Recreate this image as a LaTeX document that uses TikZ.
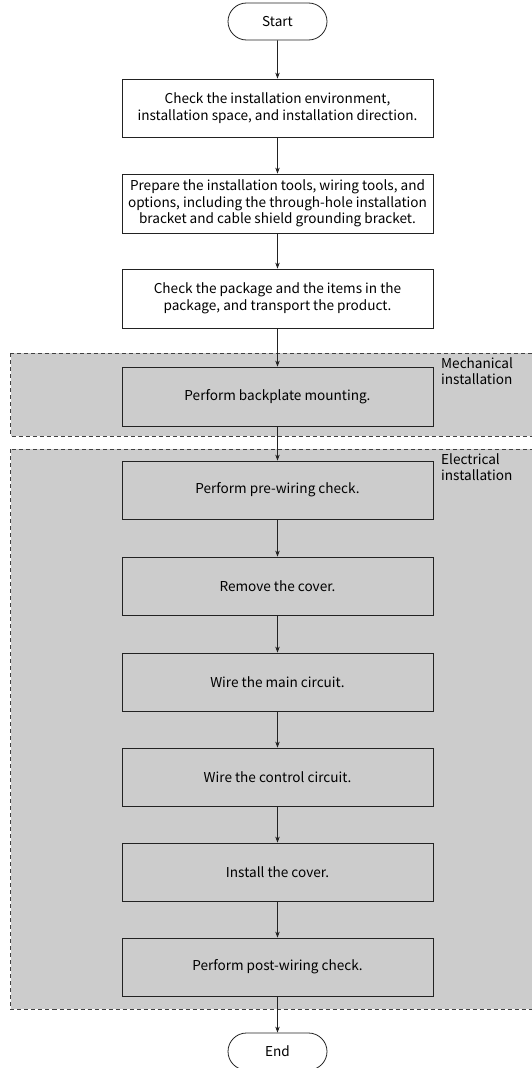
\documentclass[tikz,border=0pt]{standalone}
\usepackage{fontspec}
\setmainfont{Noto Sans CJK SC}
\usetikzlibrary{shapes.misc,arrows.meta}
\definecolor{regiongray}{HTML}{CCCCCC}
\definecolor{linecol}{HTML}{222222}
\begin{document}
\begin{tikzpicture}[x=1pt,y=-1pt,
  stepbox/.style={draw=linecol,line width=0.8pt,minimum width=311pt,inner sep=0pt,align=center,font=\fontsize{13.6}{16.6}\selectfont},
  whitebox/.style={stepbox,fill=white},
  graybox/.style={stepbox,fill=regiongray},
  term/.style={draw=linecol,line width=0.8pt,rounded rectangle,minimum width=99pt,minimum height=37pt,inner sep=0pt,fill=white,font=\fontsize{13.6}{16}\selectfont},
  region/.style={draw=black!75,dashed,dash pattern=on 4pt off 3pt,line width=0.8pt,fill=regiongray},
  regionlabel/.style={anchor=north west,align=left,inner sep=0pt,font=\fontsize{13.6}{16.5}\selectfont},
  flow/.style={draw=linecol,line width=0.8pt,-{Stealth[length=6pt,width=4.5pt]}}]
\useasboundingbox (0,0) rectangle (531,1068);
% regions
\path[region] (10.5,353) rectangle (545,436);
\path[region] (10.5,449) rectangle (545,1009);
\node[regionlabel] (mlab) at (441,357) {Mechanical\\installation};
\node[regionlabel] (elab) at (441,453) {Electrical\\installation};
% nodes
\node[term] (start) at (277.5,21.5) {Start};
\node[whitebox,minimum height=58pt] (b1) at (277.5,108) {Check the installation environment,\\installation space, and installation direction.};
\node[whitebox,minimum height=59pt] (b2) at (277.5,203.5) {Prepare the installation tools, wiring tools, and\\options, including the through-hole installation\\bracket and cable shield grounding bracket.};
\node[whitebox,minimum height=59pt] (b3) at (277.5,298.5) {Check the package and the items in the\\package, and transport the product.};
\node[graybox,minimum height=59pt] (b4) at (277.5,396.5) {Perform backplate mounting.};
\node[graybox,minimum height=58pt] (b5) at (277.5,490) {Perform pre-wiring check.};
\node[graybox,minimum height=58pt] (b6) at (277.5,586) {Remove the cover.};
\node[graybox,minimum height=58pt] (b7) at (277.5,682) {Wire the main circuit.};
\node[graybox,minimum height=58pt] (b8) at (277.5,777) {Wire the control circuit.};
\node[graybox,minimum height=58pt] (b9) at (277.5,872) {Install the cover.};
\node[graybox,minimum height=58pt] (b10) at (277.5,967) {Perform post-wiring check.};
\node[term] (end) at (277.5,1051.5) {End};
% connectors
\draw[flow] (start) -- (b1);
\draw[flow] (b1) -- (b2);
\draw[flow] (b2) -- (b3);
\draw[flow] (b3) -- (b4);
\draw[flow] (b4) -- (b5);
\draw[flow] (b5) -- (b6);
\draw[flow] (b6) -- (b7);
\draw[flow] (b7) -- (b8);
\draw[flow] (b8) -- (b9);
\draw[flow] (b9) -- (b10);
\draw[flow] (b10) -- (end);
\end{tikzpicture}
\end{document}
